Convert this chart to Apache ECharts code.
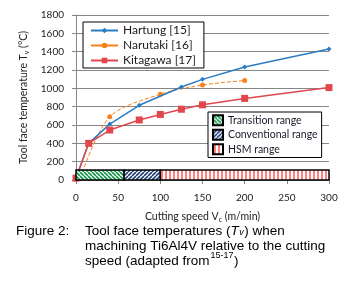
<!DOCTYPE html>
<html>
<head>
<meta charset="utf-8">
<script src="https://cdn.jsdelivr.net/npm/echarts@6/dist/echarts.min.js"></script>
<style>
  html, body { margin: 0; padding: 0; background: #fff; }
  #chart { width: 344px; height: 283px; }
</style>
</head>
<body>
<div id="chart"></div>
<script>
// values
const hartungSpeed = [0, 15, 40, 75, 125, 150, 200, 300];
const hartungTemp = [20, 400, 610, 815, 1015, 1098, 1232, 1430];
const narutakiSpeed = [5, 40, 100, 150, 200];
const narutakiTemp = [20, 690, 935, 1036, 1085];
const kitagawaSpeed = [0, 15, 40, 75, 100, 125, 150, 200, 300];
const kitagawaTemp = [20, 400, 545, 655, 715, 772, 820, 890, 1008];

const rangeNames = ['Transition range', 'Conventional range', 'HSM range'];
const rangeFrom = [0, 57, 100];
const rangeTo = [57, 100, 300];
const rangeTop = 110;

const seriesNames = ['Hartung [15]', 'Narutaki [16]', 'Kitagawa [17]'];

const zip = (xs, ys) => xs.map((x, i) => [x, ys[i]]);

// small hatch tiles for the range bars
function hatch(color, dir, size, lw) {
  const c = document.createElement('canvas');
  c.width = c.height = size;
  const g = c.getContext('2d');
  g.fillStyle = '#fff';
  g.fillRect(0, 0, size, size);
  g.strokeStyle = color;
  g.lineWidth = lw;
  g.beginPath();
  if (dir === 'back') {
    for (const o of [-size, 0, size]) { g.moveTo(o, 0); g.lineTo(o + size, size); }
  } else if (dir === 'fwd') {
    for (const o of [-size, 0, size]) { g.moveTo(o, size); g.lineTo(o + size, 0); }
  } else {
    g.moveTo(size / 2, 0); g.lineTo(size / 2, size);
  }
  g.stroke();
  return { image: c, repeat: 'repeat' };
}
const patterns = [
  hatch('#12994a', 'back', 4, 1.6),
  hatch('#1f3f78', 'fwd', 4, 1.6),
  hatch('#ff0000', 'vert', 4, 1)
];

const chart = echarts.init(document.getElementById('chart'), null, { renderer: 'canvas' });

const axisFont = 'Lato';
const gray = '#868686';

const rangeSeries = rangeNames.map((name, i) => ({
  type: 'custom',
  name: name,
  coordinateSystem: 'cartesian2d',
  z: 5,
  itemStyle: { color: patterns[i], borderColor: '#000', borderWidth: 1.5 },
  data: [[rangeFrom[i], rangeTo[i], rangeTop]],
  encode: { x: [0, 1], y: 2 },
  renderItem: (params, api) => {
    const p0 = api.coord([api.value(0), 0]);
    const p1 = api.coord([api.value(1), api.value(2)]);
    return {
      type: 'rect',
      shape: { x: p0[0], y: p1[1], width: p1[0] - p0[0], height: p0[1] - p1[1] },
      style: api.style()
    };
  }
}));

// caption placement helpers
const mctx = document.createElement('canvas').getContext('2d');
function tw(str, font) { mctx.font = font; return mctx.measureText(str).width; }
const capFont = '13.5px "Liberation Sans"';
const capX = 85;
const l1a = 'Tool face temperatures (';
const l3a = 'speed (adapted from';
const x1T = capX + tw(l1a, capFont);
const x1v = x1T + tw('T', 'italic ' + capFont) + 0.5;
const x1c = x1v + tw('v', 'italic 9px "Liberation Sans"') + 0.5;
const x3s = capX + tw(l3a, capFont) + 1;
const x3c = x3s + tw('15-17', '9px "Liberation Sans"') + 0.5;

function capText(x, y, text, extra) {
  return {
    type: 'text', left: x, top: y,
    style: Object.assign({ text: text, font: capFont, fill: '#000', verticalAlign: 'middle' }, extra || {})
  };
}

chart.setOption({
  animation: false,
  grid: { left: 76, right: 15, top: 15, bottom: 103 },
  xAxis: {
    type: 'value', min: 0, max: 300, interval: 50,
    name: '{a|Cutting speed V}{s|c}{a| (m/min)}',
    nameLocation: 'middle', nameGap: 31,
    nameTextStyle: {
      rich: {
        a: { fontFamily: axisFont, fontSize: 10.5, color: '#222' },
        s: { fontFamily: axisFont, fontSize: 7, color: '#222', padding: [5, 0, 0, 0] }
      }
    },
    axisLine: { show: true, lineStyle: { color: gray } },
    axisTick: { show: true, length: 4, lineStyle: { color: gray } },
    splitLine: { show: false },
    axisLabel: { fontFamily: axisFont, fontSize: 10, color: '#222', margin: 13 }
  },
  yAxis: {
    type: 'value', min: 0, max: 1800, interval: 200,
    name: '{a|Tool face temperature T}{s|v}{a| (°C)}',
    nameLocation: 'middle', nameGap: 43,
    nameTextStyle: {
      rich: {
        a: { fontFamily: axisFont, fontSize: 10.5, color: '#222' },
        s: { fontFamily: axisFont, fontSize: 7, color: '#222', padding: [5, 0, 0, 0] }
      }
    },
    axisLine: { show: true, lineStyle: { color: gray } },
    axisTick: { show: true, length: 4, lineStyle: { color: gray } },
    splitLine: { show: true, lineStyle: { color: gray, width: 1 } },
    axisLabel: { fontFamily: axisFont, fontSize: 10, color: '#222', margin: 12, formatter: v => String(v) }
  },
  legend: [
    {
      orient: 'vertical', left: 83, top: 22,
      padding: [1, 8, 0, 7], itemGap: 0, itemWidth: 27, itemHeight: 7,
      borderColor: '#000', borderWidth: 1, backgroundColor: '#fff',
      lineStyle: { type: 'solid' },
      textStyle: { fontFamily: axisFont, fontSize: 12, color: '#1a1a1a', lineHeight: 15 },
      data: seriesNames
    },
    {
      orient: 'vertical', left: 208, top: 112,
      padding: [1, 4, 1, 4], itemGap: 0, itemWidth: 10, itemHeight: 10, icon: 'rect',
      borderColor: '#000', borderWidth: 1, backgroundColor: '#fff',
      textStyle: { fontFamily: axisFont, fontSize: 10.5, color: '#1a1a2a', lineHeight: 14.5 },
      data: rangeNames
    }
  ],
  series: [
    {
      type: 'line', name: seriesNames[0], data: zip(hartungSpeed, hartungTemp),
      symbol: 'diamond', symbolSize: 5, z: 3,
      lineStyle: { color: '#2b7cc2', width: 1.5 }, itemStyle: { color: '#2b7cc2' }
    },
    {
      type: 'line', name: seriesNames[1], data: zip(narutakiSpeed, narutakiTemp),
      symbol: 'circle', symbolSize: 5, smooth: 0.3, z: 2,
      lineStyle: { color: '#f7821b', width: 1, type: [4, 2] }, itemStyle: { color: '#f7821b' }
    },
    {
      type: 'line', name: seriesNames[2], data: zip(kitagawaSpeed, kitagawaTemp),
      symbol: 'rect', symbolSize: 7, z: 3,
      lineStyle: { color: '#e2474e', width: 1.5 }, itemStyle: { color: '#e2474e' }
    }
  ].concat(rangeSeries),
  graphic: [
    capText(16, 224, 'Figure 2:'),
    capText(capX, 224, l1a),
    capText(x1T, 224, 'T', { font: 'italic ' + capFont }),
    capText(x1v, 228, 'v', { font: 'italic 9px "Liberation Sans"' }),
    capText(x1c, 224, ') when'),
    capText(capX, 239, 'machining Ti6Al4V relative to the cutting'),
    capText(capX, 254, l3a),
    capText(x3s, 251, '15-17', { font: '9px "Liberation Sans"' }),
    capText(x3c, 254, ')')
  ]
});
</script>
</body>
</html>
